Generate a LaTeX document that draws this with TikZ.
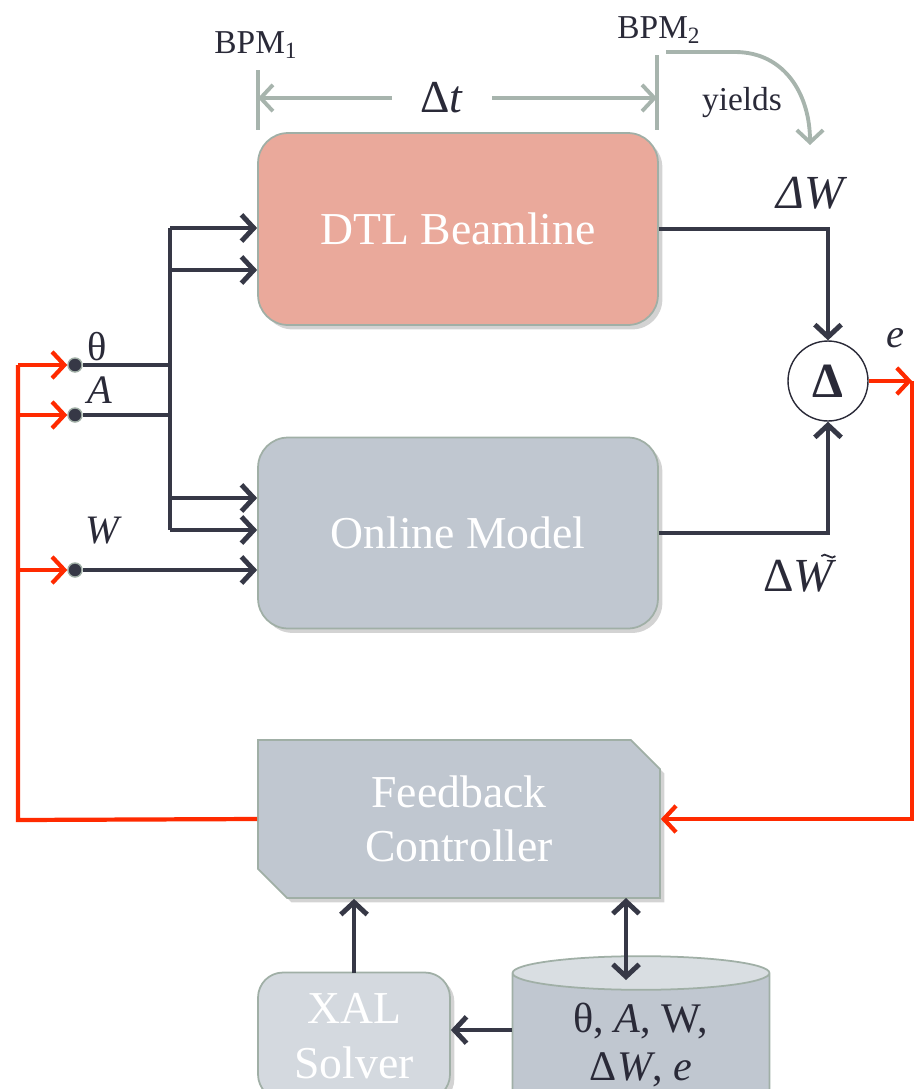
\documentclass[tikz,border=0pt]{standalone}
\usepackage{fontspec}
\setmainfont{Liberation Serif}
\usetikzlibrary{shapes.geometric, shapes.misc, positioning, arrows.meta, shadows}

\begin{document}
\begin{tikzpicture}[x=0.02cm, y=-0.02cm,
        >={Straight Barb[length=7pt,width=15pt]},
        darkline/.style={line width=2.8pt, draw=lineDark},
        redline/.style={line width=2.4pt, draw=lineRed},
        grayline/.style={line width=2.2pt, draw=lineGray},
        block/.style={draw=boxBorder, line width=1pt, text=white, align=center,
            font=\fontsize{26}{31}\selectfont, inner sep=0pt},
        shade/.style={drop shadow={shadow xshift=2.5pt, shadow yshift=-2.5pt, opacity=0.35}},
        dot/.style={circle, fill=lineDark, draw=boxBorder, line width=0.8pt,
            minimum size=8pt, inner sep=0pt},
        lbl/.style={text=textDark, font=\fontsize{23}{26}\selectfont, inner sep=0pt}]
    % Цвета
    \definecolor{salmon}{RGB}{234,169,155}
    \definecolor{slate}{RGB}{192,199,208}
    \definecolor{slateLight}{RGB}{212,217,223}
    \definecolor{slateTop}{RGB}{217,222,226}
    \definecolor{boxBorder}{RGB}{160,175,166}
    \definecolor{lineDark}{RGB}{54,56,70}
    \definecolor{lineRed}{RGB}{255,42,0}
    \definecolor{lineGray}{RGB}{167,180,173}
    \definecolor{textDark}{RGB}{42,42,56}

    \useasboundingbox (0,0) rectangle (918,1089);

    % Блоки
    \node[block, shade, rectangle, rounded corners=0.6cm, fill=salmon,
        minimum width=8cm, minimum height=3.84cm] (dtl) at (458,229) {DTL Beamline};
    \node[block, shade, rectangle, rounded corners=0.6cm, fill=slate,
        minimum width=8cm, minimum height=3.82cm] (om) at (458,533) {Online Model};
    \node[block, shade, chamfered rectangle, chamfered rectangle corners={north east, south west},
        chamfered rectangle sep=0.29cm, fill=slate,
        minimum width=8.04cm, minimum height=3.16cm] (fb) at (459,819) {Feedback\\Controller};
    \node[block, shade, rectangle, rounded corners=0.5cm, fill=slateLight,
        minimum width=3.84cm, minimum height=2.54cm] (xal) at (354,1036) {XAL\\Solver};
    \node[block, cylinder, shape border rotate=90, aspect=0.25, text=textDark,
        cylinder uses custom fill, cylinder body fill=slate, cylinder end fill=slateTop,
        minimum width=5.14cm, minimum height=3.2cm,
        font=\fontsize{24}{27}\selectfont] (db) at (641,1045)
        {θ, \textit{A}, W,\\Δ\textit{W}, \textit{e}};
    \node[circle, draw=textDark, fill=white, line width=0.8pt, minimum size=1.6cm,
        font=\bfseries\fontsize{28}{28}\selectfont, text=textDark] (delta) at (828,381) {Δ};

    % Входы
    \node[dot] (th) at (75,365) {};
    \node[dot] (amp) at (75,415) {};
    \node[dot] (en) at (75,570) {};
    \node[lbl] (thlbl) at (97,347) {θ};
    \node[lbl] (amplbl) at (100,390) {\textit{A}};
    \node[lbl] (enlbl) at (104,531) {\textit{W}};

    \coordinate (j1) at (170,228);
    \coordinate (j2) at (170,270);
    \coordinate (j3) at (170,498);
    \coordinate (j4) at (170,530);
    \draw[darkline] (th) -- (th -| j1);
    \draw[darkline] (amp) -- (amp -| j1);
    \draw[darkline] (j1) -- (j4);
    \draw[darkline, ->] (j1) -- (j1 -| dtl.west);
    \draw[darkline, ->] (j2) -- (j2 -| dtl.west);
    \draw[darkline, ->] (j3) -- (j3 -| om.west);
    \draw[darkline, ->] (j4) -- (j4 -| om.west);
    \draw[darkline, ->] (en) -- (en -| om.west);

    % Выходы
    \draw[darkline, ->] (dtl.east) -| (delta.north);
    \draw[darkline, ->] (om.east) -| (delta.south);
    \node[lbl, font=\fontsize{27}{30}\selectfont] (dW) at (812,193) {\textit{ΔW}};
    \node[lbl, font=\fontsize{27}{30}\selectfont] (dWt) at (800,576) {Δ\textit{W}};
    \draw[textDark, line width=1pt] ([xshift=-9pt,yshift=2pt]dWt.north east)
        .. controls +(2pt,3pt) and +(-2pt,-3pt) .. +(8pt,0pt);
    \node[lbl] (elbl) at (895,338) {\textit{e}};

    % Обратная связь
    \coordinate (eout) at (912,381);
    \coordinate (fbl) at (18,820);
    \draw[redline, ->] (delta.east) -- (eout);
    \draw[redline, ->] (eout) |- (fb.east);
    \draw[redline] (fb.west) -- (fbl) -- (fbl |- th);
    \draw[redline, ->] (fbl |- th) -- (th.west);
    \draw[redline, ->] (fbl |- amp) -- (amp.west);
    \draw[redline, ->] (fbl |- en) -- (en.west);

    \draw[darkline, ->] (xal.north |- 0,973) -- (xal.north |- fb.south);
    \draw[darkline, <->] (626,898) -- (626,980);
    \draw[darkline, ->] (db.west |- 0,1030) -- (xal.east |- 0,1030);

    % BPM
    \coordinate (bpm1a) at (258,70);
    \coordinate (bpm1b) at (258,130);
    \coordinate (bpm2a) at (657,55);
    \coordinate (bpm2b) at (657,130);
    \draw[grayline] (bpm1a) -- (bpm1b);
    \draw[grayline] (bpm2a) -- (bpm2b);
    \node[lbl, font=\fontsize{19}{22}\selectfont] (bpm1) at (256,45) {BPM\textsubscript{1}};
    \node[lbl, font=\fontsize{19}{22}\selectfont] (bpm2) at (659,30) {BPM\textsubscript{2}};
    \node[lbl, font=\fontsize{26}{30}\selectfont, inner xsep=16pt] (dt) at (442,98) {Δ\textit{t}};
    \draw[grayline, ->] (dt.west) -- (dt.west -| bpm1a);
    \draw[grayline, ->] (dt.east) -- (dt.east -| bpm2a);
    \node[lbl, font=\fontsize{19}{22}\selectfont] (yields) at (742,103) {yields};
    \draw[grayline, ->] (666,52) -- (735,52) .. controls (785,52) and (810,95) .. (810,145);
\end{tikzpicture}
\end{document}
